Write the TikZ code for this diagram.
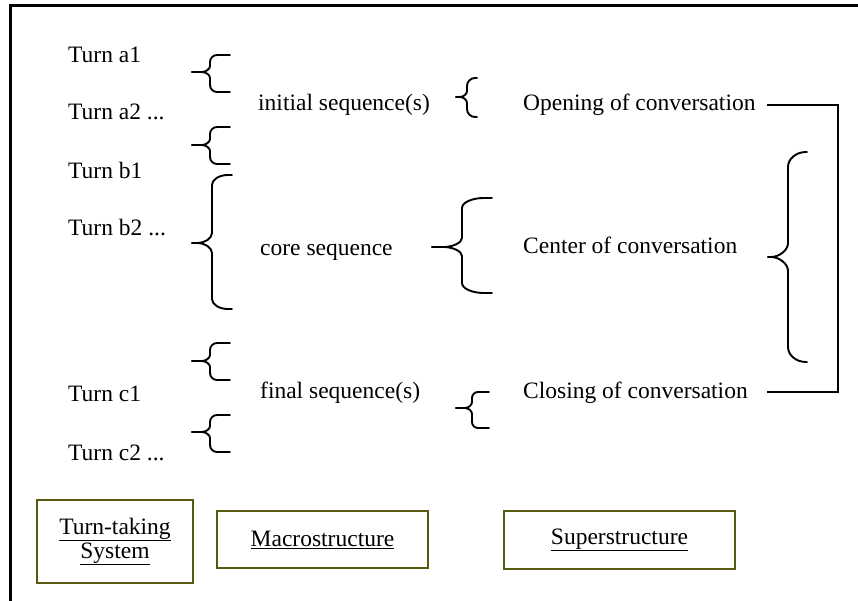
\documentclass[tikz,border=0pt]{standalone}
\usepackage{fontspec}
\setmainfont{Liberation Serif}
\definecolor{boxolive}{RGB}{88,88,16}
\newcommand{\setbr}[4]{\def\brh{#1}\def\brv{#2}\def\bth{#3}\def\btv{#4}}
\newcommand{\lbrc}[6]{% tip x, vertical x, arm x, top y, tip y, bottom y
  \draw[brc] (#3,#4) -- ({#2+\brh},#4) .. controls ({#2+\brh*0.45},#4) and (#2,{#4+\brv*0.45}) .. (#2,{#4+\brv})
    -- (#2,{#5-\btv}) .. controls (#2,{#5-\btv*0.45}) and ({#2-\bth*0.55},#5) .. ({#2-\bth},#5) -- (#1,#5);
  \draw[brc] (#1,#5) -- ({#2-\bth},#5) .. controls ({#2-\bth*0.55},#5) and (#2,{#5+\btv*0.45}) .. (#2,{#5+\btv})
    -- (#2,{#6-\brv}) .. controls (#2,{#6-\brv*0.45}) and ({#2+\brh*0.45},#6) .. ({#2+\brh},#6) -- (#3,#6);
}
\begin{document}
\begin{tikzpicture}[x=1pt,y=-1pt,
  txt/.style={anchor=base west,inner sep=0pt,font=\fontsize{23.5}{28}\selectfont},
  brc/.style={line width=1.9pt,line cap=round,line join=round},
  conn/.style={line width=1.8pt},
  sbox/.style={draw=boxolive,line width=2.4pt,inner sep=0pt,align=center,
    font=\fontsize{23.5}{27}\selectfont}]
\useasboundingbox (0,0) rectangle (858,601);
% frame
\draw[line width=3pt] (858,6) -- (10,6) -- (10,601);
% turns
\node[txt] (ta1) at (68,63) {Turn a1};
\node[txt] (ta2) at (68,120) {Turn a2 ...};
\node[txt] (tb1) at (68,179) {Turn b1};
\node[txt] (tb2) at (68,236) {Turn b2 ...};
\node[txt] (tc1) at (68,401) {Turn c1};
\node[txt] (tc2) at (68,460) {Turn c2 ...};
% macro
\node[txt] (ini) at (258,111) {initial sequence(s)};
\node[txt] (core) at (260,256) {core sequence};
\node[txt] (fin) at (260,398) {final sequence(s)};
% super
\node[txt] (open) at (523,111) {Opening of conversation};
\node[txt] (cent) at (523,254) {Center of conversation};
\node[txt] (close) at (523,398) {Closing of conversation};
% left braces
\setbr{7}{7}{8}{6}
\lbrc{192}{210}{230}{55}{72}{92}
\lbrc{192}{210}{230}{127}{145}{164}
\lbrc{192}{210}{230}{343}{361}{380}
\lbrc{192}{210}{230}{415}{432}{452}
\setbr{16}{10}{14}{10}
\lbrc{192}{212}{232}{175}{243}{309}
% middle braces
\setbr{8}{8}{7}{6}
\lbrc{456}{467}{477}{78}{97}{117}
\setbr{22}{10}{18}{9}
\lbrc{432}{462}{492}{198}{247}{293}
\setbr{6}{6}{7}{6}
\lbrc{456}{472}{489}{392}{408}{428}
% right brace
\setbr{18}{15}{17}{14}
\lbrc{768}{788}{807}{152}{257}{362}
% connector bracket
\coordinate (lx) at (767,0);
\coordinate (rx) at (838,0);
\draw[conn] (open.east -| lx) -- (open.east -| rx) -- (close.east -| rx) -- (close.east -| lx);
% boxes
\node[sbox,minimum width=156pt,minimum height=83pt] (bturn) at (115,541.5) {\underline{Turn-taking}\\[-3pt]\underline{System}};
\node[sbox,minimum width=211pt,minimum height=57pt] (bmacro) at (322.5,539.5) {\underline{Macrostructure}};
\node[sbox,minimum width=231pt,minimum height=58pt] (bsuper) at (619.5,540) {\underline{Superstructure}};
\end{tikzpicture}
\end{document}
